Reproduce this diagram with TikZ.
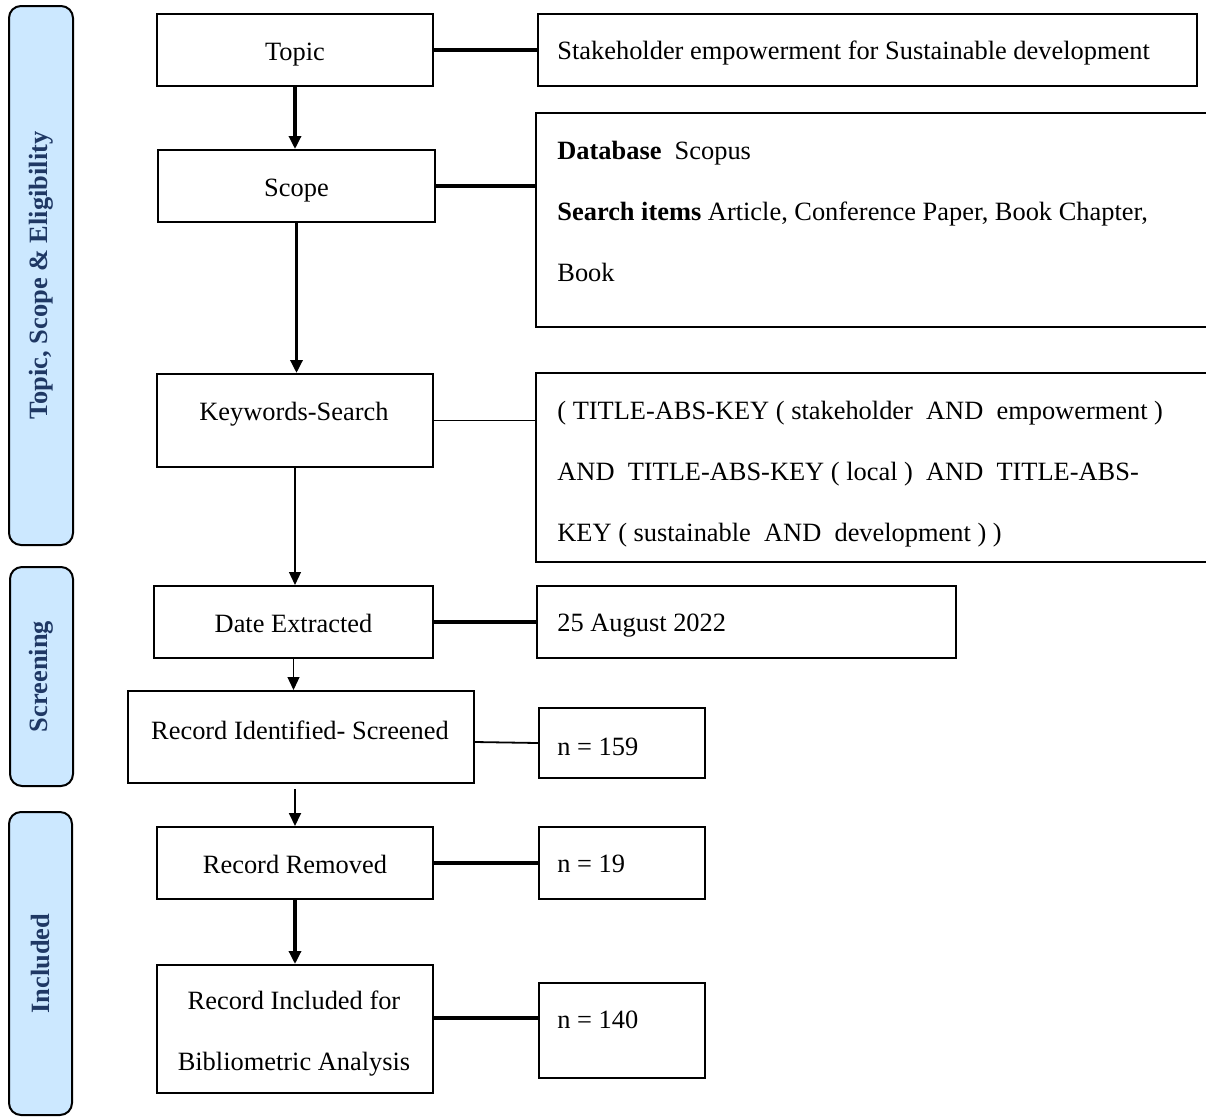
\documentclass[tikz,border=0pt]{standalone}
\usepackage{fontspec}
\setmainfont{Liberation Serif}
\usetikzlibrary{arrows.meta,calc}
\definecolor{barfill}{HTML}{CCE8FF}
\definecolor{bartext}{HTML}{1F3864}
\begin{document}
\begin{tikzpicture}[x=0.5pt,y=-0.5pt,
  txt/.style={inner sep=0pt, font=\fontsize{13.2pt}{30.5pt}\selectfont},
  one/.style={text height=13pt, text depth=3pt},
  box/.style={draw, line width=1pt, inner sep=0pt, anchor=north west, one, font=\fontsize{13.2pt}{31pt}\selectfont},
  openbox/.style={draw=none, inner sep=0pt, anchor=north west},
  bar/.style={draw, line width=1pt, fill=barfill, rounded corners=6pt, rotate=90, inner sep=0pt, text=bartext, font=\fontsize{13.2pt}{16pt}\selectfont\bfseries},
  heavy/.style={line width=1.6pt},
  medium/.style={line width=0.9pt},
  light/.style={line width=0.6pt},
  arr/.style={-{Triangle[width=6pt,length=6.5pt]}}
]
\useasboundingbox (0,0) rectangle (1206,1116);

% phase bars
\node[bar, minimum width=269.5pt, minimum height=32pt] (b1) at (41,275.5) {Topic, Scope \& Eligibility};
\node[bar, minimum width=109.5pt, minimum height=31.5pt] (b2) at (41.5,676.5) {Screening};
\node[bar, minimum width=151.5pt, minimum height=31.5pt] (b3) at (40.5,963.5) {Included};

% left column
\node[box, minimum width=138pt, minimum height=36pt] (topic) at (156,13) {Topic};
\node[box, minimum width=138.5pt, minimum height=36pt] (scope) at (157,149) {Scope};
\node[box, minimum width=138pt, minimum height=46.5pt] (kw) at (156,373) {};
\node[txt, one] (kwt) at (294,410) {Keywords-Search};
\node[box, minimum width=139.5pt, minimum height=36pt] (date) at (153,585) {Date Extracted};
\node[box, minimum width=173pt, minimum height=46pt] (recid) at (127,690) {};
\node[txt, one] (recidt) at (300,729) {Record Identified- Screened};
\node[box, minimum width=138pt, minimum height=36pt] (removed) at (156,826) {Record Removed};
\node[box, minimum width=138pt, minimum height=64pt] (included) at (156,964) {};
\node[txt, align=center] (includedt) at (294,1034) {Record Included for\\Bibliometric Analysis};

% right column
\node[box, minimum width=329.5pt, minimum height=36pt] (topicR) at (537,13) {};
\node[txt, one, anchor=west] (topicRt) at (557,49) {Stakeholder empowerment for Sustainable development};

\node[openbox, minimum width=338pt, minimum height=106.5pt] (scopeR) at (536,113) {};
\draw[line width=1pt] (scopeR.north east) -- (scopeR.north west) -- (scopeR.south west) -- (scopeR.south east);
\node[txt, anchor=west, align=left] (scopeRt) at (557,211) {\textbf{Database}\ \ Scopus\\\textbf{Search items} Article, Conference Paper, Book Chapter,\\Book};

\node[openbox, minimum width=338pt, minimum height=94pt] (kwR) at (536,373) {};
\draw[line width=1pt] (kwR.north east) -- (kwR.north west) -- (kwR.south west) -- (kwR.south east);
\node[txt, anchor=west, align=left] (kwRt) at (557,474.5) {( TITLE-ABS-KEY ( stakeholder\ \ AND\ \ empowerment )\\AND\ \ TITLE-ABS-KEY ( local )\ \ AND\ \ TITLE-ABS-\\KEY ( sustainable\ \ AND\ \ development ) )};

\node[box, minimum width=209.5pt, minimum height=36pt] (dateR) at (536,585) {};
\node[txt, one, anchor=west] (dateRt) at (557,621) {25 August 2022};

\node[box, minimum width=83pt, minimum height=35pt] (n159) at (538,707) {};
\node[txt, one, anchor=west] (n159t) at (557,745) {n = 159};
\node[box, minimum width=83pt, minimum height=36pt] (n19) at (538,826) {};
\node[txt, one, anchor=west] (n19t) at (557,862) {n = 19};
\node[box, minimum width=83pt, minimum height=47.5pt] (n140) at (538,982) {};
\node[txt, one, anchor=west] (n140t) at (557,1018) {n = 140};

% horizontal connectors
\draw[heavy] (topic.east) -- (topicR.west);
\draw[heavy] (scope.east) -- (scope.east -| scopeR.west);
\draw[light] (kw.east) -- (kw.east -| kwR.west);
\draw[heavy] (date.east) -- (dateR.west);
\draw[medium] ([yshift=-2.5pt]recid.east) -- (n159.west);
\draw[heavy] (removed.east) -- (n19.west);
\draw[heavy] (included.east |- n140t) -- (n140.west |- n140t);

% vertical arrows
\draw[heavy,arr] (topic.south) -- (topic.south |- scope.north);
\draw[heavy,arr] (scope.south) -- (scope.south |- kw.north);
\draw[light,arr] (kw.south) -- (kw.south |- date.north);
\draw[light,arr] (date.south) -- (date.south |- recid.north);
\draw[medium,arr,shorten <=2.5pt] (removed.north |- recid.south) -- (removed.north);
\draw[heavy,arr] (removed.south) -- (included.north);
\end{tikzpicture}
\end{document}
